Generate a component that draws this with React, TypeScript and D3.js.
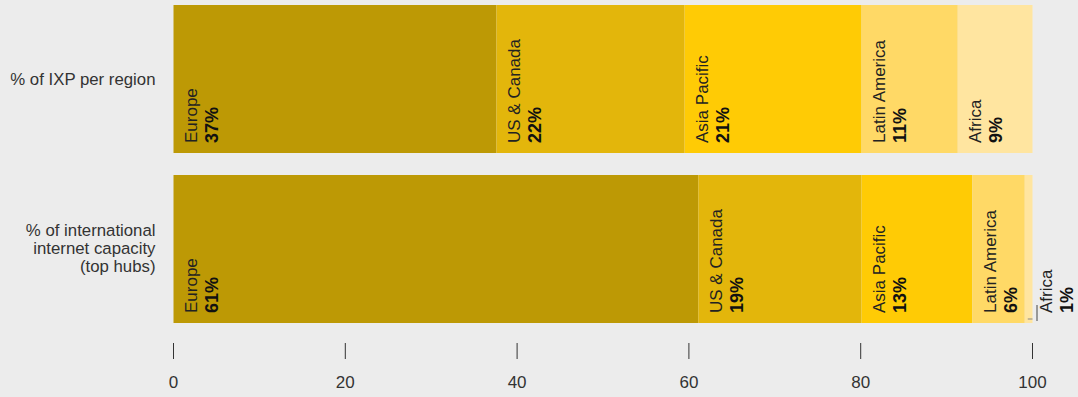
import React from "react";
import * as d3 from "d3";

const regions = ["Europe", "US & Canada", "Asia Pacific", "Latin America", "Africa"];
const rows = ["% of IXP per region", "% of international internet capacity (top hubs)"];
const rowLabelLines = [["% of IXP per region"], ["% of international", "internet capacity", "(top hubs)"]];
const ixpShare = [37.6, 21.9, 20.6, 11.2, 8.7];
const ixpLabels = ["37%", "22%", "21%", "11%", "9%"];
const capacityShare = [61.1, 19.0, 12.9, 6.1, 0.9];
const capacityLabels = ["61%", "19%", "13%", "6%", "1%"];
const colors = ["#bd9905", "#e3b60b", "#ffcb05", "#ffd966", "#ffe5a0"];
const ticks = [0, 20, 40, 60, 80, 100];

const W = 1078;
const H = 397;
const FONT = "'Liberation Sans', Arial, sans-serif";

export default function App() {
  const x = d3.scaleLinear().domain([0, 100]).range([173.5, 1032.5]);
  const y = d3.scaleBand<string>().domain(rows).range([5, 323]).paddingInner(0.1294);
  const color = d3.scaleOrdinal<string, string>().domain(regions).range(colors);
  const series = [ixpShare, capacityShare];
  const labels = [ixpLabels, capacityLabels];

  return (
    <svg width={W} height={H} style={{ position: "absolute", left: 0, top: 0, background: "#ececec" }} fontFamily={FONT}>
      <rect x={0} y={0} width={W} height={H} fill="#ececec" />
      {rows.map((row, ri) => {
        const vals = series[ri];
        const cum = d3.cumsum(vals);
        const y0 = y(row)!;
        const bw = y.bandwidth();
        const lines = rowLabelLines[ri];
        const cy = y0 + bw / 2;
        return (
          <g key={row}>
            <text textAnchor="end" fontSize={16.8} fill="#333" x={155.5}>
              {lines.map((l, li) => (
                <tspan key={li} x={155.5} y={cy + 5.5 + (li - (lines.length - 1) / 2) * 18}>
                  {l}
                </tspan>
              ))}
            </text>
            {regions.map((r, i) => {
              const a = x(cum[i] - vals[i]);
              const b = x(cum[i]);
              const narrow = b - a < 40;
              const nameX = narrow ? b + 19 : a + 23.5;
              const pctX = nameX + 21;
              const ty = y0 + bw - 10;
              return (
                <g key={r}>
                  <rect x={a} y={y0} width={b - a} height={bw} fill={color(r)} />
                  {narrow && (
                    <g>
                      <line x1={a + 3} x2={b} y1={y0 + bw - 4} y2={y0 + bw - 4} stroke="#888" strokeWidth={1} />
                      <line x1={b + 4.5} x2={b + 4.5} y1={y0 + bw - 18} y2={y0 + bw - 2} stroke="#444" strokeWidth={1} />
                    </g>
                  )}
                  <text transform={`translate(${nameX},${ty}) rotate(-90)`} fontSize={17} fill="#222">
                    {r}
                  </text>
                  <text transform={`translate(${pctX},${ty}) rotate(-90)`} fontSize={18} fontWeight="bold" fill="#111">
                    {labels[ri][i]}
                  </text>
                </g>
              );
            })}
          </g>
        );
      })}
      {ticks.map((t) => (
        <g key={t}>
          <line x1={x(t)} x2={x(t)} y1={343} y2={359} stroke="#333" strokeWidth={1} />
          <text x={x(t)} y={388} textAnchor="middle" fontSize={17} fill="#333">
            {t}
          </text>
        </g>
      ))}
    </svg>
  );
}
